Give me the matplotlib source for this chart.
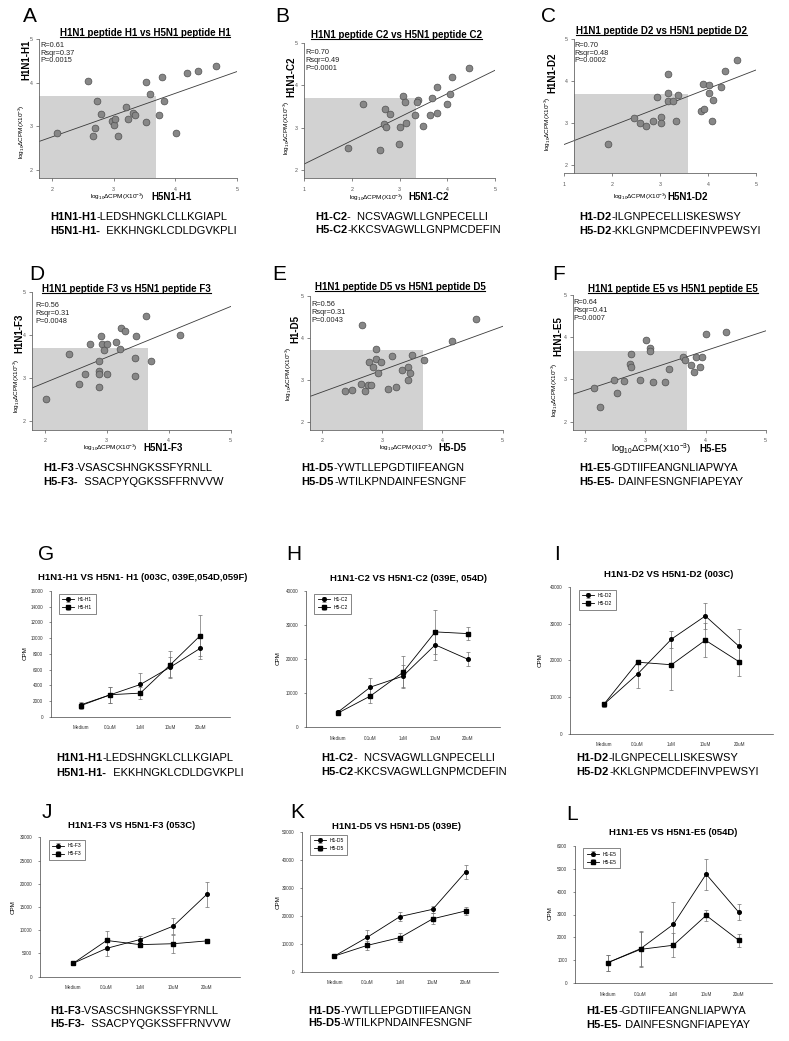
import numpy as np
import matplotlib
matplotlib.use("Agg")
import matplotlib.pyplot as plt
from matplotlib.patches import Rectangle
from matplotlib.lines import Line2D

plt.rcParams['font.family'] = ['Liberation Sans', 'DejaVu Sans']
plt.rcParams['mathtext.fontset'] = 'custom'
plt.rcParams['mathtext.rm'] = 'Liberation Sans'
plt.rcParams['mathtext.it'] = 'Liberation Sans:italic'
plt.rcParams['mathtext.bf'] = 'Liberation Sans:bold'

# ---- scatter data (log10 dCPM x10^-3), x = H5N1 peptide, y = H1N1 peptide ----
a_x = [2.08, 2.59, 2.74, 2.79, 2.70, 2.67, 3.20, 2.98, 3.01, 3.03, 3.07, 3.23,
       3.32, 3.35, 3.52, 3.53, 3.59, 3.74, 3.78, 3.81, 4.01, 4.18, 4.37, 4.65]
a_y = [2.85, 4.03, 3.58, 3.28, 2.95, 2.78, 3.45, 3.13, 3.02, 3.16, 2.78, 3.17,
       3.30, 3.25, 3.09, 4.01, 3.75, 3.26, 4.13, 3.58, 2.85, 4.22, 4.26, 4.38]
b_x = [1.92, 2.23, 2.68, 2.69, 2.79, 2.71, 2.59, 2.98, 3.01, 3.13, 3.08, 3.12,
       3.38, 3.37, 3.32, 3.50, 3.67, 3.63, 3.78, 3.78, 3.99, 4.06, 4.09, 4.46]
b_y = [2.52, 3.57, 3.09, 3.45, 3.32, 3.02, 2.46, 2.61, 3.01, 3.10, 3.75, 3.60,
       3.66, 3.60, 3.29, 3.03, 3.70, 3.30, 3.97, 3.34, 3.55, 3.81, 4.19, 4.41]
c_x = [1.92, 2.45, 2.57, 2.70, 2.85, 2.94, 3.01, 3.01, 3.17, 3.17, 3.16, 3.26,
       3.36, 3.33, 3.85, 3.92, 3.89, 4.01, 4.01, 4.10, 4.07, 4.26, 4.34, 4.59]
c_y = [2.50, 3.11, 3.01, 2.93, 3.06, 3.63, 3.14, 2.99, 4.17, 3.71, 3.52, 3.52,
       3.68, 3.04, 3.29, 3.33, 3.93, 3.92, 3.71, 3.55, 3.04, 3.87, 4.24, 4.50]
d_x = [2.02, 2.39, 2.56, 2.65, 2.73, 2.87, 2.87, 2.88, 2.87, 2.91, 2.93, 2.95,
       3.01, 3.00, 3.15, 3.21, 3.23, 3.30, 3.45, 3.45, 3.48, 3.64, 3.72, 4.18]
d_y = [2.52, 3.57, 2.87, 3.10, 3.81, 3.40, 3.16, 3.10, 2.81, 3.98, 3.79, 3.65,
       3.80, 3.09, 3.84, 3.68, 4.18, 4.09, 3.47, 3.05, 3.98, 4.46, 3.40, 4.00]
e_x = [2.38, 2.50, 2.65, 2.71, 2.67, 2.77, 2.82, 2.78, 2.84, 2.89, 2.90, 2.93,
       2.98, 3.10, 3.16, 3.23, 3.33, 3.42, 3.43, 3.46, 3.49, 3.70, 4.15, 4.55]
e_y = [2.74, 2.76, 2.90, 2.72, 4.29, 2.88, 2.88, 3.42, 3.31, 3.74, 3.49, 3.17,
       3.42, 2.78, 3.57, 2.82, 3.22, 3.30, 3.00, 3.16, 3.58, 3.46, 3.93, 4.45]
f_x = [2.15, 2.25, 2.48, 2.53, 2.65, 2.74, 2.76, 2.76, 2.91, 3.01, 3.08, 3.07,
       3.13, 3.33, 3.39, 3.62, 3.66, 3.76, 3.81, 3.84, 3.94, 3.90, 4.00, 4.34]
f_y = [2.79, 2.34, 2.98, 2.68, 2.97, 3.36, 3.30, 3.59, 2.99, 3.94, 3.74, 3.68,
       2.94, 2.93, 3.25, 3.53, 3.47, 3.35, 3.17, 3.54, 3.53, 3.30, 4.08, 4.13]

# regression line: value at left x-limit and at x=5
fit_start = [2.65, 2.14, 2.49, 2.78, 2.60, 2.65]
fit_end = [4.26, 4.36, 4.27, 4.67, 4.27, 4.15]

scatter_titles = ["H1N1 peptide H1 vs H5N1 peptide H1", "H1N1 peptide C2 vs H5N1 peptide C2",
                  "H1N1 peptide D2 vs H5N1 peptide D2", "H1N1 peptide F3 vs H5N1 peptide F3",
                  "H1N1 peptide D5 vs H5N1 peptide D5", "H1N1 peptide E5 vs H5N1 peptide E5"]
scatter_stats = [("0.61", "0.37", "0.0015"), ("0.70", "0.49", "0.0001"), ("0.70", "0.48", "0.0002"),
                 ("0.56", "0.31", "0.0048"), ("0.56", "0.31", "0.0043"), ("0.64", "0.41", "0.0007")]
scatter_ynames = ["H1N1-H1", "H1N1-C2", "H1N1-D2", "H1N1-F3", "H1-D5", "H1N1-E5"]
scatter_xnames = ["H5N1-H1", "H5N1-C2", "H5N1-D2", "H5N1-F3", "H5-D5", "H5-E5"]
gray_right = [3.68, 3.35, 3.58, 3.67, 3.67, 3.69]
gray_top = [3.70, 3.70, 3.70, 3.70, 3.70, 3.68]

# ---- proliferation data (CPM) ----
conc = ["Medium", "0.1uM", "1uM", "10uM", "20uM"]
g_s1 = [1500, 2800, 4100, 6300, 8700]; g_e1 = [400, 1000, 1400, 1300, 1400]
g_s2 = [1400, 2800, 3000, 6600, 10300]; g_e2 = [400, 1000, 800, 1700, 2600]
h_s1 = [4500, 11800, 15000, 24200, 20000]; h_e1 = [500, 2800, 3200, 4500, 2000]
h_s2 = [4200, 9200, 16100, 28000, 27500]; h_e2 = [500, 2200, 4700, 6500, 1800]
i_s1 = [8000, 16300, 25800, 32100, 23800]; i_e1 = [700, 3900, 2300, 3500, 4700]
i_s2 = [8000, 19500, 18800, 25500, 19600]; i_e2 = [700, 500, 7000, 4700, 4000]
j_s1 = [2900, 6100, 8000, 10900, 17700]; j_e1 = [300, 1600, 700, 1700, 2700]
j_s2 = [2900, 7800, 6900, 7100, 7700]; j_e2 = [300, 2000, 500, 1900, 400]
k_s1 = [5700, 12400, 19800, 22400, 35700]; k_e1 = [400, 2500, 1500, 1300, 2500]
k_s2 = [5700, 9500, 12300, 19000, 21800]; k_e2 = [400, 1500, 1500, 1900, 1300]
l_s1 = [900, 1510, 2570, 4760, 3090]; l_e1 = [350, 760, 960, 680, 350]
l_s2 = [900, 1480, 1660, 2960, 1870]; l_e2 = [350, 750, 530, 240, 300]

line_titles = ["H1N1-H1 VS H5N1- H1 (003C, 039E,054D,059F)", "H1N1-C2 VS H5N1-C2 (039E, 054D)",
               "H1N1-D2 VS H5N1-D2 (003C)", "H1N1-F3 VS H5N1-F3 (053C)",
               "H1N1-D5 VS H5N1-D5 (039E)", "H1N1-E5 VS H5N1-E5 (054D)"]
line_legends = [("H1-H1", "H5-H1"), ("H1-C2", "H5-C2"), ("H1-D2", "H5-D2"),
                ("H1-F3", "H5-F3"), ("H1-D5", "H5-D5"), ("H1-E5", "H5-E5")]
line_ymax = [16000, 40000, 40000, 30000, 50000, 6000]
line_ystep = [2000, 10000, 10000, 5000, 10000, 1000]

# peptide sequences: (bold part, plain part)
seqs = [
    [("H1N1-H1", "-LEDSHNGKLCLLKGIAPL"), ("H5N1-H1-", "  EKKHNGKLCDLDGVKPLI")],
    [("H1-C2", "-  NCSVAGWLLGNPECELLI"), ("H5-C2", "-KKCSVAGWLLGNPMCDEFIN")],
    [("H1-D2", "-ILGNPECELLISKESWSY"), ("H5-D2", "-KKLGNPMCDEFINVPEWSYI")],
    [("H1-F3", "-VSASCSHNGKSSFYRNLL"), ("H5-F3-", "  SSACPYQGKSSFFRNVVW")],
    [("H1-D5", "-YWTLLEPGDTIIFEANGN"), ("H5-D5", "-WTILKPNDAINFESNGNF")],
    [("H1-E5", "-GDTIIFEANGNLIAPWYA"), ("H5-E5-", " DAINFESNGNFIAPEYAY")],
]

W, H = 789, 1041
fig = plt.figure(figsize=(W / 100, H / 100), dpi=100)


def px_axes(l, t, r, b):
    return fig.add_axes([l / W, 1 - b / H, (r - l) / W, (b - t) / H])


def ftext(x, y, s, **kw):
    return fig.text(x / W, 1 - y / H, s, **kw)


small_lab = r"log$_{10}$ΔCPM(X10$^{-3}$)"
titles_to_underline = []


def scatter_panel(k, xs, ys, box, xlim, spine_x, gray_x0, letter_xy, title_xy,
                  stats_xy, ysm, ybd, xsm_xy, xbd_xy, xsm_size=4.6):
    ax = px_axes(*box)
    ax.add_patch(Rectangle((gray_x0, 1.8), gray_right[k] - gray_x0, gray_top[k] - 1.8,
                           facecolor='#d2d2d2', lw=0, zorder=0))
    ax.scatter(xs, ys, s=24, c='#878787', edgecolors='#505050', linewidths=0.5, zorder=3)
    ax.plot(list(xlim), [fit_start[k], fit_end[k]], color='#3a3a3a', lw=0.6, zorder=2)
    ax.set_xlim(xlim)
    ax.set_ylim(1.8, 5)
    ax.set_xticks(range(int(np.ceil(xlim[0])), 6))
    ax.set_yticks([2, 3, 4, 5])
    for s in ['top', 'right']:
        ax.spines[s].set_visible(False)
    for s in ['left', 'bottom']:
        ax.spines[s].set_color('#666666')
        ax.spines[s].set_linewidth(0.6)
    if spine_x is not None:
        ax.spines['left'].set_position(('data', spine_x))
    ax.tick_params(labelsize=3.8, length=2, width=0.5, colors='#555555', pad=2.5)
    ax.tick_params(axis='x', pad=4)
    ax.patch.set_alpha(0)

    ftext(letter_xy[0], letter_xy[1], "ABCDEF"[k], fontsize=15, ha='center', va='center')
    t = ftext(title_xy[0], title_xy[1], scatter_titles[k], fontsize=7, fontweight='bold',
              ha='center', va='center')
    titles_to_underline.append(t)
    r, rs, p = scatter_stats[k]
    ftext(stats_xy[0], stats_xy[1], "R=%s\nRsqr=%s\nP=%s" % (r, rs, p), fontsize=5.3,
          ha='left', va='top', linespacing=1.15, color='#222222')
    # rotated y label: small part ends at ysm[1], bold part starts at ybd[1]
    ftext(ysm[0], ysm[1], small_lab, fontsize=4.6, rotation=90, ha='center', va='top')
    ftext(ybd[0], ybd[1], scatter_ynames[k], fontsize=7, fontweight='bold',
          rotation=90, ha='center', va='bottom')
    ftext(xsm_xy[0], xsm_xy[1], small_lab, fontsize=xsm_size, ha='center', va='center')
    ftext(xbd_xy[0], xbd_xy[1], scatter_xnames[k], fontsize=7, fontweight='bold',
          ha='center', va='center')


scatter_panel(0, a_x, a_y, (39.3, 39.3, 237.3, 178.3), (1.8, 5), None, 1.8, (30, 17), (145, 33),
              (40, 42), (21.7, 104), (26.5, 80), (117, 197), (172, 197))
scatter_panel(1, b_x, b_y, (304.3, 43.3, 495, 178.3), (1, 5), None, 1.0, (282, 17), (396.7, 35),
              (305, 49), (286.7, 100), (291.5, 97), (376.7, 197.5), (429, 197))
scatter_panel(2, c_x, c_y, (564.3, 39.3, 756.3, 173.3), (1, 5), 1.2, 1.2, (549, 17), (661.7, 31),
              (574.3, 42), (548.3, 96), (552.5, 93), (640.7, 197), (688, 197))
scatter_panel(3, d_x, d_y, (32.3, 292.3, 230.7, 430), (1.8, 5), None, 1.8, (36.7, 275), (126.7, 289),
              (35, 302), (17, 358), (19.5, 353), (110, 448), (163, 448))
scatter_panel(4, e_x, e_y, (310, 295.7, 502.7, 430), (1.8, 5), None, 1.8, (279, 275), (400, 287.3),
              (311.7, 301), (289, 346), (295, 343), (406.7, 448.3), (452.3, 448))
scatter_panel(5, f_x, f_y, (573.3, 295, 765.7, 430), (1.8, 5), None, 1.8, (558.3, 275), (673.3, 289),
              (573.3, 299), (555, 362), (558.3, 356), (651.7, 449), (713.3, 449), xsm_size=6.8)


def line_panel(k, s1, e1, s2, e2, box, letter_xy, title_xy, cpm_xy):
    ax = px_axes(*box)
    x = np.arange(len(conc))
    n1, n2 = line_legends[k]
    ax.errorbar(x, s1, yerr=e1, fmt='-o', color='black', ecolor='#707070', elinewidth=0.5,
                capsize=1.5, capthick=0.5, ms=2.6, lw=0.6, label=n1)
    ax.errorbar(x, s2, yerr=e2, fmt='-s', color='black', ecolor='#707070', elinewidth=0.5,
                capsize=1.5, capthick=0.5, ms=2.4, lw=0.6, label=n2)
    ax.set_xlim(-1, 5)
    ax.set_ylim(0, line_ymax[k])
    ax.set_xticks(x)
    ax.set_xticklabels(conc)
    ax.set_yticks(np.arange(0, line_ymax[k] + 1, line_ystep[k]))
    for s in ['top', 'right']:
        ax.spines[s].set_visible(False)
    for s in ['left', 'bottom']:
        ax.spines[s].set_color('#444444')
        ax.spines[s].set_linewidth(0.5)
    ax.tick_params(labelsize=3.3, length=1.5, width=0.4, colors='#333333', pad=4)
    ax.tick_params(axis='x', length=0, pad=6)
    leg = ax.legend(loc='upper left', bbox_to_anchor=(0.03, 1.0), fontsize=3.6, fancybox=False,
                    edgecolor='#555555', framealpha=1, borderpad=0.7, handlelength=2.4,
                    labelspacing=0.6)
    leg.get_frame().set_linewidth(0.5)
    ftext(letter_xy[0], letter_xy[1], "GHIJKL"[k], fontsize=15, ha='center', va='center')
    ftext(title_xy[0], title_xy[1], line_titles[k], fontsize=6.8, fontweight='bold',
          ha='center', va='center')
    ftext(cpm_xy[0], cpm_xy[1], "CPM", fontsize=4.5, rotation=90, ha='center', va='center')


line_panel(0, g_s1, g_e1, g_s2, g_e2, (50.7, 591, 230, 716.7), (45.7, 555), (143, 578), (25, 653))
line_panel(1, h_s1, h_e1, h_s2, h_e2, (305.7, 591, 500, 727.3), (294, 555), (408.3, 578.3), (278.3, 658.3))
line_panel(2, i_s1, i_e1, i_s2, i_e2, (570, 587, 773, 733.7), (556.7, 555), (668.3, 574.3), (540, 660))
line_panel(3, j_s1, j_e1, j_s2, j_e2, (40, 837.3, 240, 976.7), (47.3, 812.3), (131.7, 825), (13.3, 906.7))
line_panel(4, k_s1, k_e1, k_s2, k_e2, (301.7, 832, 498.3, 972), (297.3, 812.3), (396.7, 826.7), (277.7, 901.7))
line_panel(5, l_s1, l_e1, l_s2, l_e2, (575, 845.7, 771.7, 983.3), (572.3, 815), (673.3, 832.7), (550, 913.3))

# ---- peptide sequence lines under every panel ----
renderer = fig.canvas.get_renderer()


def mixed(x, y, bold, plain, size=8):
    t = ftext(x, y + 3.5, bold, fontsize=size, fontweight='bold', ha='left', va='baseline')
    bb = t.get_window_extent(renderer)
    ftext(bb.x1, y + 3.5, plain, fontsize=size, ha='left', va='baseline')


seq_pos = [(50, 216, 230), (315, 216.7, 229.3), (579.3, 216.7, 230),
           (43.3, 467.7, 481), (301.7, 467.7, 481), (579.3, 467.7, 481),
           (56.7, 757.7, 773), (321.7, 757.7, 771.5), (576.7, 757.7, 771.7),
           (50, 1010.7, 1023.3), (308.3, 1010.7, 1022.7), (586.7, 1010.7, 1024)]
for n, (sx, y1, y2) in enumerate(seq_pos):
    (b1, p1), (b2, p2) = seqs[n % 6]
    mixed(sx, y1, b1, p1)
    mixed(sx, y2, b2, p2)

# underline the scatter titles
fig.canvas.draw()
for t in titles_to_underline:
    bb = t.get_window_extent(renderer)
    yl = bb.y0 + 1.0
    fig.add_artist(Line2D([bb.x0 / W, bb.x1 / W], [yl / H, yl / H], color='black', lw=0.8,
                          transform=fig.transFigure))

fig.savefig("out.png", dpi=100)
